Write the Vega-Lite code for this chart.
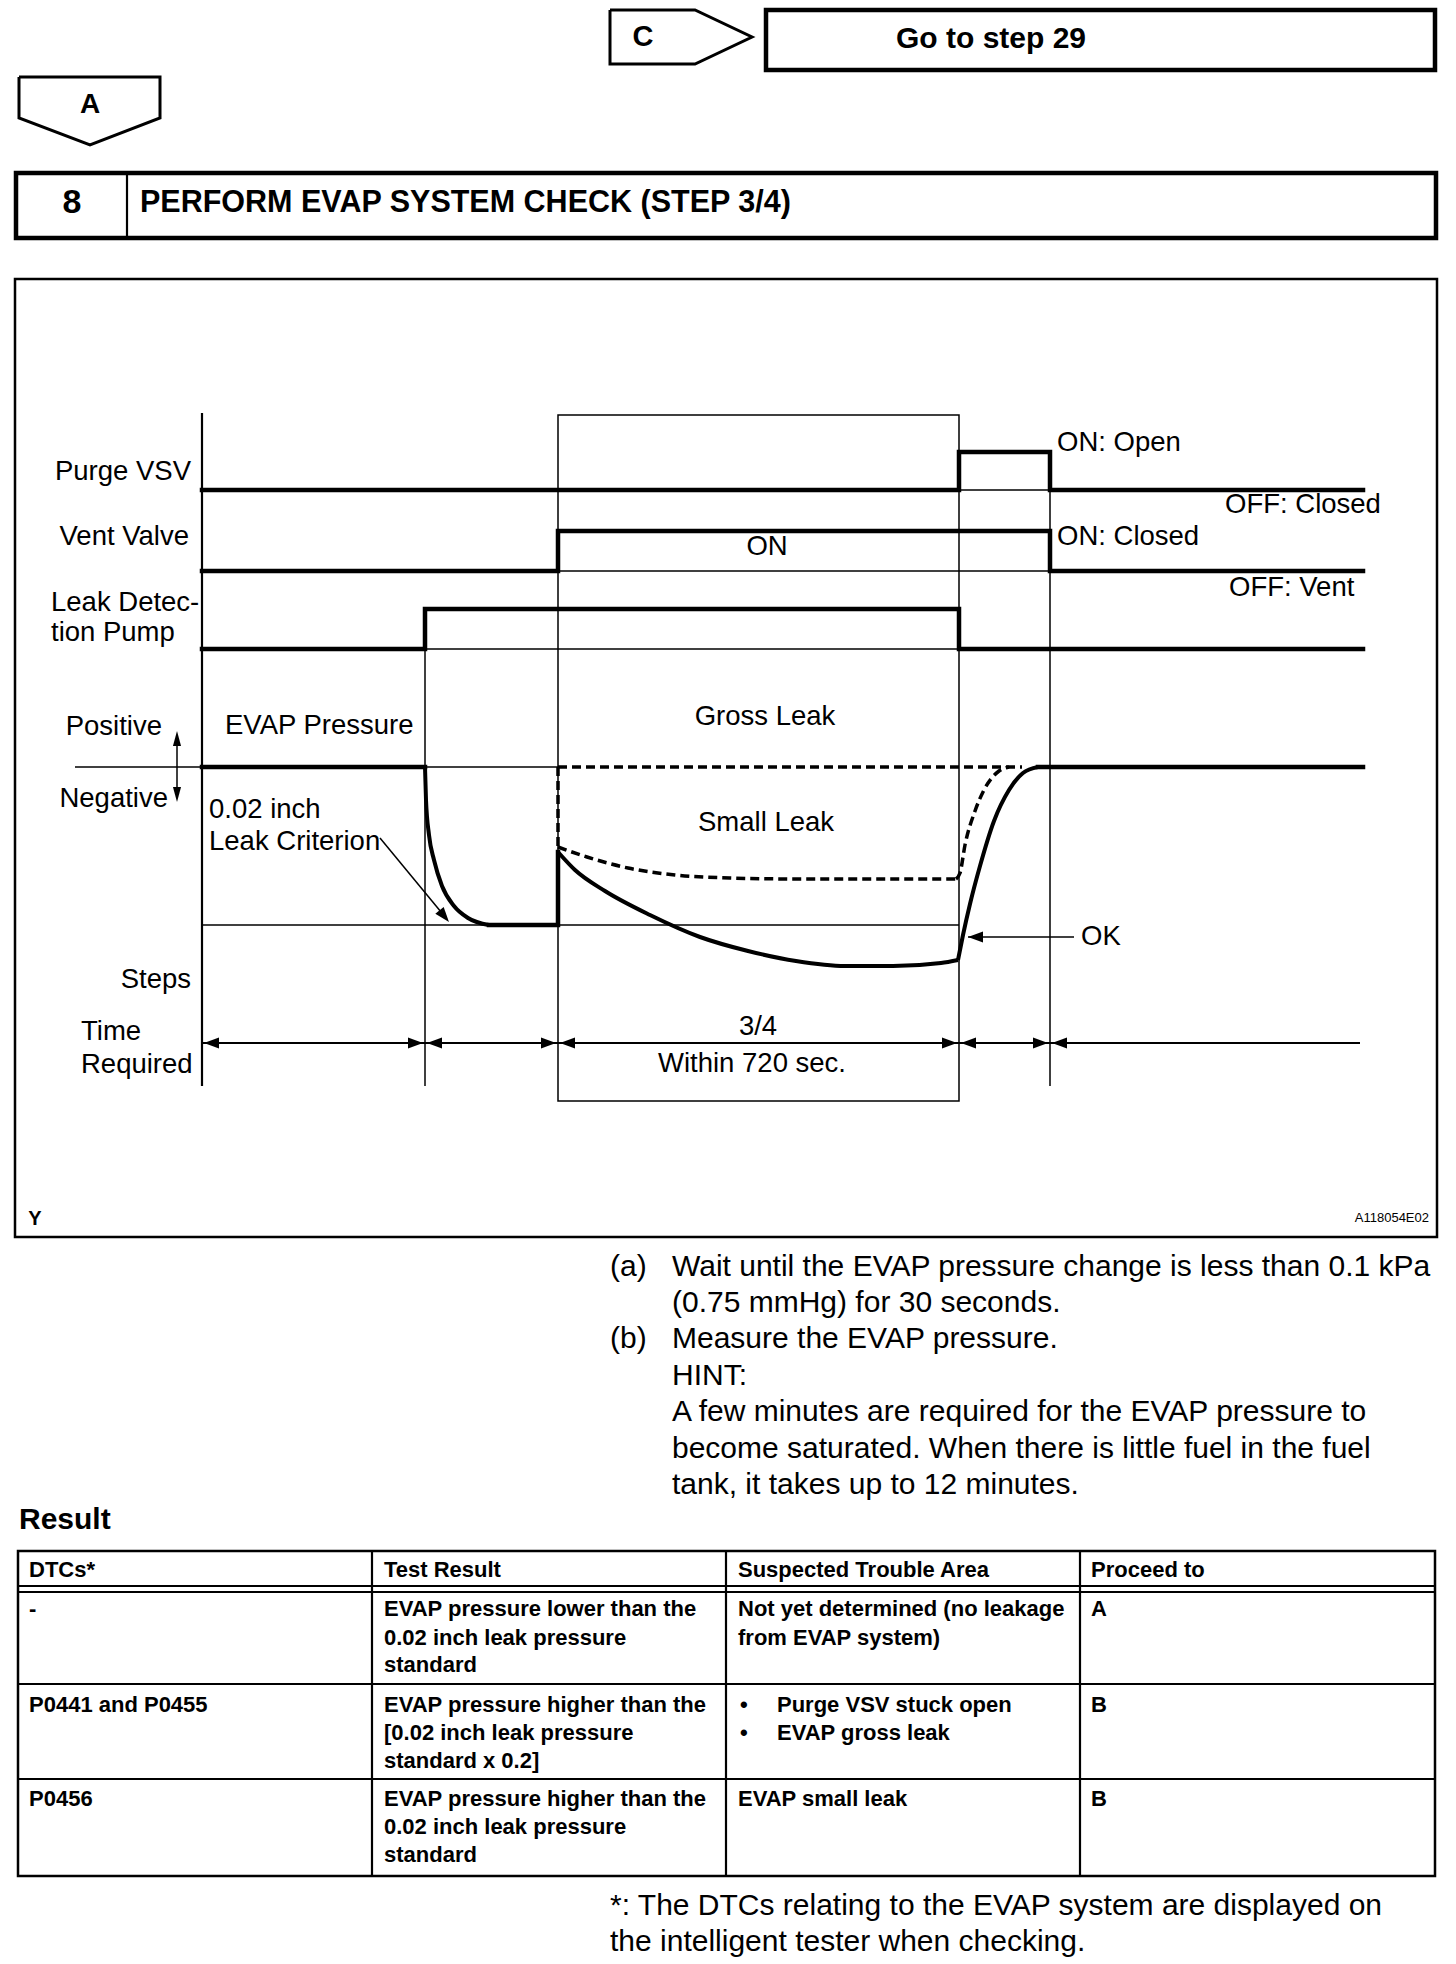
{
 "$schema": "https://vega.github.io/schema/vega-lite/v6.json",
 "width": 1456, "height": 1964,
 "autosize": {"type": "fit", "contains": "padding"},
 "padding": 0,
 "background": "white",
 "config": {"view": {"stroke": null}, "text": {"font": "Liberation Sans", "color": "black", "baseline": "middle"}},
 "datasets": {
  "rectThick": [{"x":766,"x2":1435,"y":10,"y2":70},{"x":16,"x2":1436,"y":173,"y2":238}],
  "rectMed": [{"x":15,"x2":1437,"y":279,"y2":1237},{"x":18,"x2":1435,"y":1551,"y2":1876}],
  "rectThin": [{"x":558,"x2":959,"y":415,"y2":1101}],
  "poly": [
   {"id":"C","i":0,"x":610,"y":10},{"id":"C","i":1,"x":695,"y":10},{"id":"C","i":2,"x":752,"y":37},{"id":"C","i":3,"x":695,"y":64},{"id":"C","i":4,"x":610,"y":64},{"id":"C","i":5,"x":610,"y":10},
   {"id":"A","i":0,"x":19,"y":77},{"id":"A","i":1,"x":160,"y":77},{"id":"A","i":2,"x":160,"y":118},{"id":"A","i":3,"x":90,"y":145},{"id":"A","i":4,"x":19,"y":118},{"id":"A","i":5,"x":19,"y":77}
  ],
  "steps": [
   {"id":"purge","i":0,"x":202,"y":490},{"id":"purge","i":1,"x":959,"y":490},{"id":"purge","i":2,"x":959,"y":452},{"id":"purge","i":3,"x":1050,"y":452},{"id":"purge","i":4,"x":1050,"y":490},{"id":"purge","i":5,"x":1363,"y":490},
   {"id":"vent","i":0,"x":202,"y":571},{"id":"vent","i":1,"x":558,"y":571},{"id":"vent","i":2,"x":558,"y":531},{"id":"vent","i":3,"x":1050,"y":531},{"id":"vent","i":4,"x":1050,"y":571},{"id":"vent","i":5,"x":1363,"y":571},
   {"id":"pump","i":0,"x":202,"y":649},{"id":"pump","i":1,"x":425,"y":649},{"id":"pump","i":2,"x":425,"y":609},{"id":"pump","i":3,"x":959,"y":609},{"id":"pump","i":4,"x":959,"y":649},{"id":"pump","i":5,"x":1363,"y":649},
   {"id":"evap1","i":0,"x":202,"y":767},{"id":"evap1","i":1,"x":425,"y":767},
   {"id":"evap2","i":0,"x":489,"y":925},{"id":"evap2","i":1,"x":558,"y":925},{"id":"evap2","i":2,"x":558,"y":852},
   {"id":"evap3","i":0,"x":1038,"y":767},{"id":"evap3","i":1,"x":1363,"y":767}
  ],
  "curves": [
   {"id":"c1","i":0,"x":425,"y":767},{"id":"c1","i":1,"x":426,"y":800},{"id":"c1","i":2,"x":429,"y":835},{"id":"c1","i":3,"x":434,"y":860},{"id":"c1","i":4,"x":442,"y":886},{"id":"c1","i":5,"x":454,"y":906},{"id":"c1","i":6,"x":468,"y":918},{"id":"c1","i":7,"x":489,"y":925},
   {"id":"c2","i":0,"x":558,"y":852},{"id":"c2","i":1,"x":575,"y":870},{"id":"c2","i":2,"x":605,"y":891},{"id":"c2","i":3,"x":650,"y":915},{"id":"c2","i":4,"x":700,"y":937},{"id":"c2","i":5,"x":748,"y":951},{"id":"c2","i":6,"x":796,"y":961},{"id":"c2","i":7,"x":845,"y":966},{"id":"c2","i":8,"x":893,"y":966},{"id":"c2","i":9,"x":941,"y":963},{"id":"c2","i":10,"x":958,"y":960},
   {"id":"c3","i":0,"x":958,"y":960},{"id":"c3","i":1,"x":963,"y":935},{"id":"c3","i":2,"x":970,"y":904},{"id":"c3","i":3,"x":980,"y":866},{"id":"c3","i":4,"x":994,"y":821},{"id":"c3","i":5,"x":1009,"y":790},{"id":"c3","i":6,"x":1023,"y":773},{"id":"c3","i":7,"x":1038,"y":767}
  ],
  "dashedCurves": [
   {"id":"d1","i":0,"x":558,"y":847},{"id":"d1","i":1,"x":587,"y":857},{"id":"d1","i":2,"x":628,"y":868},{"id":"d1","i":3,"x":675,"y":875},{"id":"d1","i":4,"x":730,"y":878},{"id":"d1","i":5,"x":800,"y":879},{"id":"d1","i":6,"x":956,"y":879},
   {"id":"d2","i":0,"x":956,"y":879},{"id":"d2","i":1,"x":960,"y":873},{"id":"d2","i":2,"x":965,"y":845},{"id":"d2","i":3,"x":975,"y":811},{"id":"d2","i":4,"x":984,"y":790},{"id":"d2","i":5,"x":999,"y":771},{"id":"d2","i":6,"x":1009,"y":767}
  ],
  "dashedSeg": [
   {"x":558,"y":767,"x2":1022,"y2":767},
   {"x":558,"y":767,"x2":558,"y2":847}
  ],
  "thin": [
   {"x":959,"y":490,"x2":1050,"y2":490},
   {"x":558,"y":571,"x2":1050,"y2":571},
   {"x":425,"y":649,"x2":959,"y2":649},
   {"x":75,"y":767,"x2":202,"y2":767},
   {"x":425,"y":767,"x2":558,"y2":767},
   {"x":202,"y":925,"x2":959,"y2":925},
   {"x":425,"y":649,"x2":425,"y2":1086},
   {"x":1050,"y":490,"x2":1050,"y2":1086},
   {"x":380,"y":838,"x2":446,"y2":918},
   {"x":968,"y":937,"x2":1074,"y2":937},
   {"x":177,"y":735,"x2":177,"y2":798}
  ],
  "medium": [
   {"x":202,"y":413,"x2":202,"y2":1086},
   {"x":202,"y":1043,"x2":1360,"y2":1043},
   {"x":127,"y":173,"x2":127,"y2":238},
   {"x":372,"y":1551,"x2":372,"y2":1876},
   {"x":726,"y":1551,"x2":726,"y2":1876},
   {"x":1080,"y":1551,"x2":1080,"y2":1876},
   {"x":18,"y":1586,"x2":1435,"y2":1586},
   {"x":18,"y":1592,"x2":1435,"y2":1592},
   {"x":18,"y":1684,"x2":1435,"y2":1684},
   {"x":18,"y":1779,"x2":1435,"y2":1779}
  ],
  "arrowsBig": [
   {"x":204,"y":1043,"dir":180},{"x":423,"y":1043,"dir":0},{"x":427,"y":1043,"dir":180},{"x":556,"y":1043,"dir":0},{"x":560,"y":1043,"dir":180},{"x":957,"y":1043,"dir":0},{"x":961,"y":1043,"dir":180},{"x":1048,"y":1043,"dir":0},{"x":1052,"y":1043,"dir":180},
   {"x":968,"y":937,"dir":180},
   {"x":449,"y":922,"dir":50.6}
  ],
  "arrowsSmall": [
   {"x":177,"y":731,"dir":270},{"x":177,"y":802,"dir":90}
  ],
  "diagRight": [
   {"x":191,"y":472,"t":"Purge VSV"},{"x":189,"y":537,"t":"Vent Valve"},{"x":162,"y":727,"t":"Positive"},{"x":168,"y":799,"t":"Negative"},{"x":191,"y":980,"t":"Steps"}
  ],
  "diagLeft": [
   {"x":51,"y":603,"t":"Leak Detec-"},{"x":51,"y":633,"t":"tion Pump"},{"x":225,"y":726,"t":"EVAP Pressure"},{"x":209,"y":810,"t":"0.02 inch"},{"x":209,"y":842,"t":"Leak Criterion"},{"x":81,"y":1032,"t":"Time"},{"x":81,"y":1065,"t":"Required"},{"x":1057,"y":443,"t":"ON: Open"},{"x":1225,"y":505,"t":"OFF: Closed"},{"x":1057,"y":537,"t":"ON: Closed"},{"x":1229,"y":588,"t":"OFF: Vent"},{"x":1081,"y":937,"t":"OK"}
  ],
  "diagCenter": [
   {"x":765,"y":717,"t":"Gross Leak"},{"x":766,"y":823,"t":"Small Leak"},{"x":767,"y":547,"t":"ON"},{"x":758,"y":1027,"t":"3/4"},{"x":752,"y":1064,"t":"Within 720 sec."}
  ],
  "headCenter": [
   {"x":991,"y":39,"t":"Go to step 29","s":30},{"x":643,"y":37,"t":"C","s":29},{"x":90,"y":105,"t":"A","s":28},{"x":72,"y":203,"t":"8","s":34}
  ],
  "headLeft": [
   {"x":140,"y":203,"t":"PERFORM EVAP SYSTEM CHECK (STEP 3/4)","s":30.5},{"x":19,"y":1520,"t":"Result","s":30}
  ],
  "body": [
   {"x":610,"y":1267,"t":"(a)"},{"x":672,"y":1267,"t":"Wait until the EVAP pressure change is less than 0.1 kPa"},
   {"x":672,"y":1303,"t":"(0.75 mmHg) for 30 seconds."},
   {"x":610,"y":1339,"t":"(b)"},{"x":672,"y":1339,"t":"Measure the EVAP pressure."},
   {"x":672,"y":1376,"t":"HINT:"},
   {"x":672,"y":1412,"t":"A few minutes are required for the EVAP pressure to"},
   {"x":672,"y":1449,"t":"become saturated. When there is little fuel in the fuel"},
   {"x":672,"y":1485,"t":"tank, it takes up to 12 minutes."},
   {"x":610,"y":1906,"t":"*: The DTCs relating to the EVAP system are displayed on"},
   {"x":610,"y":1942,"t":"the intelligent tester when checking."}
  ],
  "table": [
   {"x":29,"y":1570,"t":"DTCs*"},{"x":384,"y":1570,"t":"Test Result"},{"x":738,"y":1570,"t":"Suspected Trouble Area"},{"x":1091,"y":1570,"t":"Proceed to"},
   {"x":29,"y":1609,"t":"-"},{"x":384,"y":1609,"t":"EVAP pressure lower than the"},{"x":384,"y":1638,"t":"0.02 inch leak pressure"},{"x":384,"y":1665,"t":"standard"},{"x":738,"y":1609,"t":"Not yet determined (no leakage"},{"x":738,"y":1638,"t":"from EVAP system)"},{"x":1091,"y":1609,"t":"A"},
   {"x":29,"y":1705,"t":"P0441 and P0455"},{"x":384,"y":1705,"t":"EVAP pressure higher than the"},{"x":384,"y":1733,"t":"[0.02 inch leak pressure"},{"x":384,"y":1761,"t":"standard x 0.2]"},{"x":740,"y":1705,"t":"•"},{"x":777,"y":1705,"t":"Purge VSV stuck open"},{"x":740,"y":1733,"t":"•"},{"x":777,"y":1733,"t":"EVAP gross leak"},{"x":1091,"y":1705,"t":"B"},
   {"x":29,"y":1799,"t":"P0456"},{"x":384,"y":1799,"t":"EVAP pressure higher than the"},{"x":384,"y":1827,"t":"0.02 inch leak pressure"},{"x":384,"y":1855,"t":"standard"},{"x":738,"y":1799,"t":"EVAP small leak"},{"x":1091,"y":1799,"t":"B"}
  ],
  "smallBold": [{"x":35,"y":1219,"t":"Y"}],
  "smallRight": [{"x":1429,"y":1218,"t":"A118054E02"}]
 },
 "layer": [
  {"data":{"name":"rectThick"},"mark":{"type":"rect","filled":false,"color":"black","strokeWidth":4.5},
   "encoding":{"x":{"field":"x","type":"quantitative","scale":{"domain":[0,1456],"nice":false,"zero":false},"axis":null},"x2":{"field":"x2"},"y":{"field":"y","type":"quantitative","scale":{"domain":[0,1964],"nice":false,"zero":false,"reverse":true},"axis":null},"y2":{"field":"y2"}}},
  {"data":{"name":"rectMed"},"mark":{"type":"rect","filled":false,"color":"black","strokeWidth":2.5},
   "encoding":{"x":{"field":"x","type":"quantitative","axis":null},"x2":{"field":"x2"},"y":{"field":"y","type":"quantitative","axis":null},"y2":{"field":"y2"}}},
  {"data":{"name":"rectThin"},"mark":{"type":"rect","filled":false,"color":"black","strokeWidth":1.5},
   "encoding":{"x":{"field":"x","type":"quantitative","axis":null},"x2":{"field":"x2"},"y":{"field":"y","type":"quantitative","axis":null},"y2":{"field":"y2"}}},
  {"data":{"name":"thin"},"mark":{"type":"rule","color":"black","strokeWidth":1.5},
   "encoding":{"x":{"field":"x","type":"quantitative","axis":null},"x2":{"field":"x2"},"y":{"field":"y","type":"quantitative","axis":null},"y2":{"field":"y2"}}},
  {"data":{"name":"medium"},"mark":{"type":"rule","color":"black","strokeWidth":2.2},
   "encoding":{"x":{"field":"x","type":"quantitative","axis":null},"x2":{"field":"x2"},"y":{"field":"y","type":"quantitative","axis":null},"y2":{"field":"y2"}}},
  {"data":{"name":"dashedSeg"},"mark":{"type":"rule","color":"black","strokeWidth":3.5,"strokeDash":[9,5]},
   "encoding":{"x":{"field":"x","type":"quantitative","axis":null},"x2":{"field":"x2"},"y":{"field":"y","type":"quantitative","axis":null},"y2":{"field":"y2"}}},
  {"data":{"name":"poly"},"mark":{"type":"line","color":"black","strokeWidth":3,"strokeJoin":"miter"},
   "encoding":{"x":{"field":"x","type":"quantitative","axis":null},"y":{"field":"y","type":"quantitative","axis":null},"detail":{"field":"id","type":"nominal"},"order":{"field":"i","type":"quantitative"}}},
  {"data":{"name":"steps"},"mark":{"type":"line","color":"black","strokeWidth":4.5,"strokeJoin":"miter","strokeCap":"square"},
   "encoding":{"x":{"field":"x","type":"quantitative","axis":null},"y":{"field":"y","type":"quantitative","axis":null},"detail":{"field":"id","type":"nominal"},"order":{"field":"i","type":"quantitative"}}},
  {"data":{"name":"curves"},"mark":{"type":"line","color":"black","strokeWidth":4,"interpolate":"monotone"},
   "encoding":{"x":{"field":"x","type":"quantitative","axis":null},"y":{"field":"y","type":"quantitative","axis":null},"detail":{"field":"id","type":"nominal"},"order":{"field":"i","type":"quantitative"}}},
  {"data":{"name":"dashedCurves"},"mark":{"type":"line","color":"black","strokeWidth":3.5,"strokeDash":[9,5],"interpolate":"monotone"},
   "encoding":{"x":{"field":"x","type":"quantitative","axis":null},"y":{"field":"y","type":"quantitative","axis":null},"detail":{"field":"id","type":"nominal"},"order":{"field":"i","type":"quantitative"}}},
  {"data":{"name":"arrowsBig"},"mark":{"type":"point","shape":"M0,0L-1,-0.36L-1,0.36Z","filled":true,"color":"black","opacity":1,"size":900,"strokeWidth":0},
   "encoding":{"x":{"field":"x","type":"quantitative","axis":null},"y":{"field":"y","type":"quantitative","axis":null},"angle":{"field":"dir","type":"quantitative","scale":null}}},
  {"data":{"name":"arrowsSmall"},"mark":{"type":"point","shape":"M0,0L-1,-0.27L-1,0.27Z","filled":true,"color":"black","opacity":1,"size":900,"strokeWidth":0},
   "encoding":{"x":{"field":"x","type":"quantitative","axis":null},"y":{"field":"y","type":"quantitative","axis":null},"angle":{"field":"dir","type":"quantitative","scale":null}}},
  {"data":{"name":"diagRight"},"mark":{"type":"text","align":"right","fontSize":27.5},
   "encoding":{"x":{"field":"x","type":"quantitative","axis":null},"y":{"field":"y","type":"quantitative","axis":null},"text":{"field":"t"}}},
  {"data":{"name":"diagLeft"},"mark":{"type":"text","align":"left","fontSize":27.5},
   "encoding":{"x":{"field":"x","type":"quantitative","axis":null},"y":{"field":"y","type":"quantitative","axis":null},"text":{"field":"t"}}},
  {"data":{"name":"diagCenter"},"mark":{"type":"text","align":"center","fontSize":27.5},
   "encoding":{"x":{"field":"x","type":"quantitative","axis":null},"y":{"field":"y","type":"quantitative","axis":null},"text":{"field":"t"}}},
  {"data":{"name":"headCenter"},"mark":{"type":"text","align":"center","fontWeight":"bold"},
   "encoding":{"x":{"field":"x","type":"quantitative","axis":null},"y":{"field":"y","type":"quantitative","axis":null},"text":{"field":"t"},"size":{"field":"s","type":"quantitative","scale":null}}},
  {"data":{"name":"headLeft"},"mark":{"type":"text","align":"left","fontWeight":"bold"},
   "encoding":{"x":{"field":"x","type":"quantitative","axis":null},"y":{"field":"y","type":"quantitative","axis":null},"text":{"field":"t"},"size":{"field":"s","type":"quantitative","scale":null}}},
  {"data":{"name":"body"},"mark":{"type":"text","align":"left","fontSize":30},
   "encoding":{"x":{"field":"x","type":"quantitative","axis":null},"y":{"field":"y","type":"quantitative","axis":null},"text":{"field":"t"}}},
  {"data":{"name":"table"},"mark":{"type":"text","align":"left","fontWeight":"bold","fontSize":22},
   "encoding":{"x":{"field":"x","type":"quantitative","axis":null},"y":{"field":"y","type":"quantitative","axis":null},"text":{"field":"t"}}},
  {"data":{"name":"smallBold"},"mark":{"type":"text","align":"center","fontWeight":"bold","fontSize":20},
   "encoding":{"x":{"field":"x","type":"quantitative","axis":null},"y":{"field":"y","type":"quantitative","axis":null},"text":{"field":"t"}}},
  {"data":{"name":"smallRight"},"mark":{"type":"text","align":"right","fontSize":13},
   "encoding":{"x":{"field":"x","type":"quantitative","axis":null},"y":{"field":"y","type":"quantitative","axis":null},"text":{"field":"t"}}}
 ]
}
